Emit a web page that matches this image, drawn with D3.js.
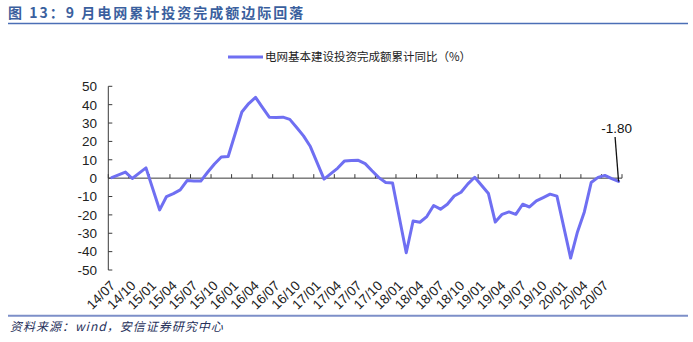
<!DOCTYPE html>
<html>
<head>
<meta charset="utf-8">
<script src="https://cdn.jsdelivr.net/npm/d3@7"></script>
<style>
  html, body { margin: 0; padding: 0; background: #fff; }
  svg { display: block; }
</style>
</head>
<body>
<svg id="chart" width="693" height="342"></svg>
<script>
// Monthly categories, 2014/07 – 2020/09
const months = [
  "14/07","14/08","14/09","14/10","14/11","14/12",
  "15/01","15/02","15/03","15/04","15/05","15/06","15/07","15/08","15/09","15/10","15/11","15/12",
  "16/01","16/02","16/03","16/04","16/05","16/06","16/07","16/08","16/09","16/10","16/11","16/12",
  "17/01","17/02","17/03","17/04","17/05","17/06","17/07","17/08","17/09","17/10","17/11","17/12",
  "18/01","18/02","18/03","18/04","18/05","18/06","18/07","18/08","18/09","18/10","18/11","18/12",
  "19/01","19/02","19/03","19/04","19/05","19/06","19/07","19/08","19/09","19/10","19/11","19/12",
  "20/01","20/02","20/03","20/04","20/05","20/06","20/07","20/08","20/09"
];

// 电网基本建设投资完成额累计同比（%）; January has no separate release (null)
const gridInvestYoY = [
  0.3, 1.8, 3.3, -0.2, 2.7, 5.6,
  null, -17.3, -10.0, -8.4, -6.4, -1.3, -1.5, -1.6, 3.2, 7.7, 11.5, 11.8,
  null, 36.0, 40.6, 44.0, 38.5, 33.2, 33.0, 33.2, 32.0, 27.6, 23.0, 17.2,
  null, -0.5, 2.5, 5.5, 9.4, 9.6, 9.7, 7.9, 4.0, 0.3, -2.4, -2.6,
  null, -40.6, -23.3, -24.0, -20.9, -14.9, -16.9, -14.2, -9.7, -7.7, -3.1, 0.5,
  null, -8.4, -23.9, -19.7, -18.4, -19.7, -14.2, -15.7, -12.4, -10.6, -8.7, -9.8,
  null, -43.5, -29.3, -18.4, -2.4, 0.4, 1.5, -0.2, -1.8
];

const yTicks = [50, 40, 30, 20, 10, 0, -10, -20, -30, -40, -50];
const tickEvery = 3;

const titleText = "图 13：9 月电网累计投资完成额边际回落";
const legendText = "电网基本建设投资完成额累计同比（%）";
const sourceText = "资料来源：wind，安信证券研究中心";
const lastLabel = "-1.80";

const svg = d3.select("#chart");
const lineColor = "#6f6ff2";
const axisColor = "#3a3a3a";
const numFont = "'Liberation Sans', Arial, sans-serif";
const cjkFont = "'Noto Sans CJK SC', sans-serif";

// Header
svg.append("text")
  .attr("x", 8).attr("y", 18)
  .attr("font-family", cjkFont)
  .attr("font-size", 14)
  .attr("font-weight", "bold")
  .attr("letter-spacing", 2)
  .attr("fill", "#3a5f9e")
  .text(titleText);
svg.append("line")
  .attr("x1", 8).attr("x2", 688).attr("y1", 23.5).attr("y2", 23.5)
  .attr("stroke", "#4b6fb6").attr("stroke-width", 1.5);

// Footer
svg.append("line")
  .attr("x1", 8).attr("x2", 688).attr("y1", 315.8).attr("y2", 315.8)
  .attr("stroke", "#7d8fc8").attr("stroke-width", 2);
svg.append("text")
  .attr("x", 10).attr("y", 331)
  .attr("font-family", cjkFont)
  .attr("font-size", 12)
  .attr("font-style", "italic")
  .attr("letter-spacing", 1)
  .attr("fill", "#26305a")
  .text(sourceText);

// Scales: category bands with ticks on band edges
const xEdge = d3.scaleLinear().domain([0, months.length]).range([108.3, 622]);
const xC = i => xEdge(i + 0.5);
const y = d3.scaleLinear().domain([-50, 50]).range([270, 86.3]);

// Y axis
const yAxis = svg.append("g");
yAxis.append("line")
  .attr("x1", xEdge(0)).attr("x2", xEdge(0))
  .attr("y1", y(-50)).attr("y2", y(50))
  .attr("stroke", axisColor).attr("stroke-width", 1);
yAxis.selectAll("line.tick").data(yTicks).join("line")
  .attr("class", "tick")
  .attr("x1", xEdge(0)).attr("x2", xEdge(0) + 4)
  .attr("y1", d => y(d)).attr("y2", d => y(d))
  .attr("stroke", axisColor);
yAxis.selectAll("text").data(yTicks).join("text")
  .attr("x", 97).attr("y", d => y(d))
  .attr("dy", "0.36em")
  .attr("text-anchor", "end")
  .attr("font-family", numFont)
  .attr("font-size", 13.5)
  .attr("fill", "#222")
  .text(d => d);

// X axis along zero
const edgeTicks = d3.range(0, months.length + 1, tickEvery);
const xAxis = svg.append("g");
xAxis.append("line")
  .attr("x1", xEdge(0)).attr("x2", xEdge(months.length))
  .attr("y1", y(0)).attr("y2", y(0))
  .attr("stroke", axisColor).attr("stroke-width", 1);
xAxis.selectAll("line.tick").data(edgeTicks).join("line")
  .attr("class", "tick")
  .attr("x1", d => xEdge(d)).attr("x2", d => xEdge(d))
  .attr("y1", y(0)).attr("y2", y(0) - 4)
  .attr("stroke", axisColor);

// Rotated category labels under the plot
const labelIdx = d3.range(0, months.length, tickEvery);
svg.append("g").selectAll("text").data(labelIdx).join("text")
  .attr("transform", i => `translate(${xC(i) + 1},${283}) rotate(-45)`)
  .attr("text-anchor", "end")
  .attr("dy", "0.35em")
  .attr("font-family", numFont)
  .attr("font-size", 13.5)
  .attr("fill", "#222")
  .text(i => months[i]);

// Series line (months without data are bridged)
const pts = gridInvestYoY
  .map((v, i) => ({ i, v }))
  .filter(d => d.v !== null);
const line = d3.line().x(d => xC(d.i)).y(d => y(d.v));
svg.append("path")
  .datum(pts)
  .attr("d", line)
  .attr("fill", "none")
  .attr("stroke", lineColor)
  .attr("stroke-width", 3)
  .attr("stroke-linejoin", "round")
  .attr("stroke-linecap", "round");

// Callout for the latest value
const last = pts[pts.length - 1];
svg.append("line")
  .attr("x1", xC(last.i) - 3.5).attr("y1", 137)
  .attr("x2", xC(last.i)).attr("y2", y(last.v))
  .attr("stroke", "#111").attr("stroke-width", 1.3);
svg.append("text")
  .attr("x", xC(last.i) - 2).attr("y", 133)
  .attr("text-anchor", "middle")
  .attr("font-family", numFont)
  .attr("font-size", 13.5)
  .attr("fill", "#111")
  .text(lastLabel);

// Legend
svg.append("line")
  .attr("x1", 228).attr("x2", 263).attr("y1", 57).attr("y2", 57)
  .attr("stroke", lineColor).attr("stroke-width", 3);
svg.append("text")
  .attr("x", 265).attr("y", 61)
  .attr("font-family", cjkFont)
  .attr("font-size", 11.5)
  .attr("fill", "#222")
  .text(legendText);
</script>
</body>
</html>
